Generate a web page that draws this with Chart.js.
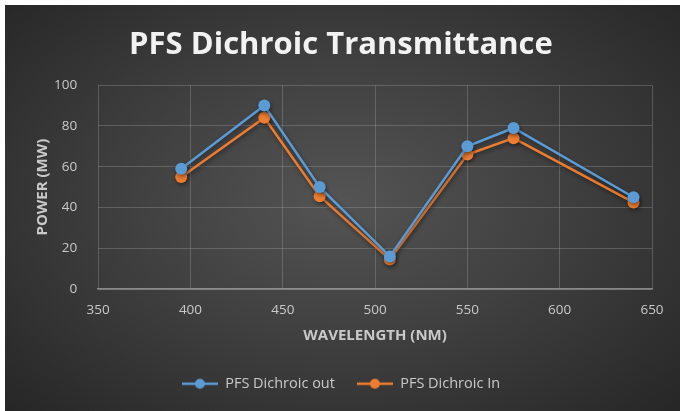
<!DOCTYPE html>
<html>
<head>
<meta charset="utf-8">
<script src="https://cdn.jsdelivr.net/npm/chart.js@4"></script>
<style>
  html, body { margin: 0; padding: 0; background: #ffffff; }
  #wrap {
    position: absolute; left: 5px; top: 5px; width: 675px; height: 406px;
    background: radial-gradient(ellipse 70% 75% at 50% 48%, #545454 0%, #404040 45%, #262626 100%);
  }
</style>
</head>
<body>
<div id="wrap"><canvas id="lineChart" width="675" height="406"></canvas></div>
<script>
// wavelength (nm) of each measurement
const wavelengths = [395, 440, 470, 508, 550, 575, 640];
// power readings (mW)
const dichroicOut = [59, 90, 50, 16, 70, 79, 45];
const dichroicIn = [55, 84, 45.5, 14.5, 66, 74, 42.5];
const xTicks = [350, 400, 450, 500, 550, 600, 650];
const yTicks = [0, 20, 40, 60, 80, 100];

const textColor = "#c9c9c9";
const gridColor = "rgba(160,160,160,0.35)";

// small legend marker: line with a dot in the middle
const legendMarker = (color) => {
  const c = document.createElement("canvas");
  c.width = 36;
  c.height = 12;
  const g = c.getContext("2d");
  g.strokeStyle = color;
  g.lineWidth = 2.5;
  g.beginPath();
  g.moveTo(0, 6);
  g.lineTo(36, 6);
  g.stroke();
  g.fillStyle = color;
  g.beginPath();
  g.arc(18, 6, 5, 0, Math.PI * 2);
  g.fill();
  return c;
};

// soft drop shadow under lines and points
const shadowPlugin = {
  id: "shadow",
  beforeDatasetsDraw(chart) {
    const ctx = chart.ctx;
    ctx.save();
    ctx.shadowColor = "rgba(0,0,0,0.45)";
    ctx.shadowBlur = 4;
    ctx.shadowOffsetX = 1;
    ctx.shadowOffsetY = 2;
  },
  afterDatasetsDraw(chart) {
    chart.ctx.restore();
  },
};

const makeSeries = (label, values, color) => ({
  label: label,
  data: wavelengths.map((w, i) => ({ x: w, y: values[i] })),
  borderColor: color,
  backgroundColor: color,
  borderWidth: 2.5,
  pointRadius: 6,
  pointHoverRadius: 6,
  pointBorderWidth: 0,
  pointStyle: "circle",
  tension: 0,
});

new Chart(document.getElementById("lineChart"), {
  type: "line",
  data: {
    datasets: [
      makeSeries("PFS Dichroic out", dichroicOut, "#5B9BD5"),
      makeSeries("PFS Dichroic In", dichroicIn, "#ED7D31"),
    ],
  },
  options: {
    responsive: false,
    animation: false,
    layout: { padding: { left: 25, right: 28, top: 12, bottom: 10 } },
    plugins: {
      title: {
        display: true,
        text: "PFS Dichroic Transmittance",
        color: "#f2f2f2",
        font: { family: "Open Sans", size: 31, weight: "bold" },
        padding: { top: 10, bottom: 21 },
      },
      legend: {
        position: "bottom",
        labels: {
          color: textColor,
          font: { family: "Open Sans", size: 14.5 },
          usePointStyle: true,
          pointStyleWidth: 36,
          padding: 22,
          generateLabels: (chart) =>
            chart.data.datasets.map((ds, i) => ({
              text: ds.label,
              fontColor: textColor,
              pointStyle: legendMarker(ds.borderColor),
              datasetIndex: i,
              lineWidth: 0,
              strokeStyle: "transparent",
              fillStyle: ds.borderColor,
            })),
        },
      },
      tooltip: { enabled: false },
    },
    scales: {
      x: {
        type: "linear",
        min: xTicks[0],
        max: xTicks[xTicks.length - 1],
        afterBuildTicks: (axis) => { axis.ticks = xTicks.map((v) => ({ value: v })); },
        grid: { color: gridColor, drawTicks: false },
        border: { display: true, color: "rgba(190,190,190,0.6)", width: 1.5 },
        ticks: { color: textColor, font: { family: "Open Sans", size: 13.5, lineHeight: 1 }, padding: 14 },
        title: {
          display: true,
          text: "WAVELENGTH (NM)",
          color: textColor,
          font: { family: "Open Sans", size: 15, weight: "bold" },
          padding: { top: -4, bottom: 10 },
        },
      },
      y: {
        min: yTicks[0],
        max: yTicks[yTicks.length - 1],
        afterBuildTicks: (axis) => { axis.ticks = yTicks.map((v) => ({ value: v })); },
        grid: { color: gridColor, drawTicks: false },
        border: { display: false },
        ticks: { color: textColor, font: { family: "Open Sans", size: 13.5 }, padding: 21 },
        title: {
          display: true,
          text: "POWER (MW)",
          color: textColor,
          font: { family: "Open Sans", size: 15, weight: "bold" },
          padding: { top: 4, bottom: -19 },
        },
      },
    },
  },
  plugins: [shadowPlugin],
});
</script>
</body>
</html>
